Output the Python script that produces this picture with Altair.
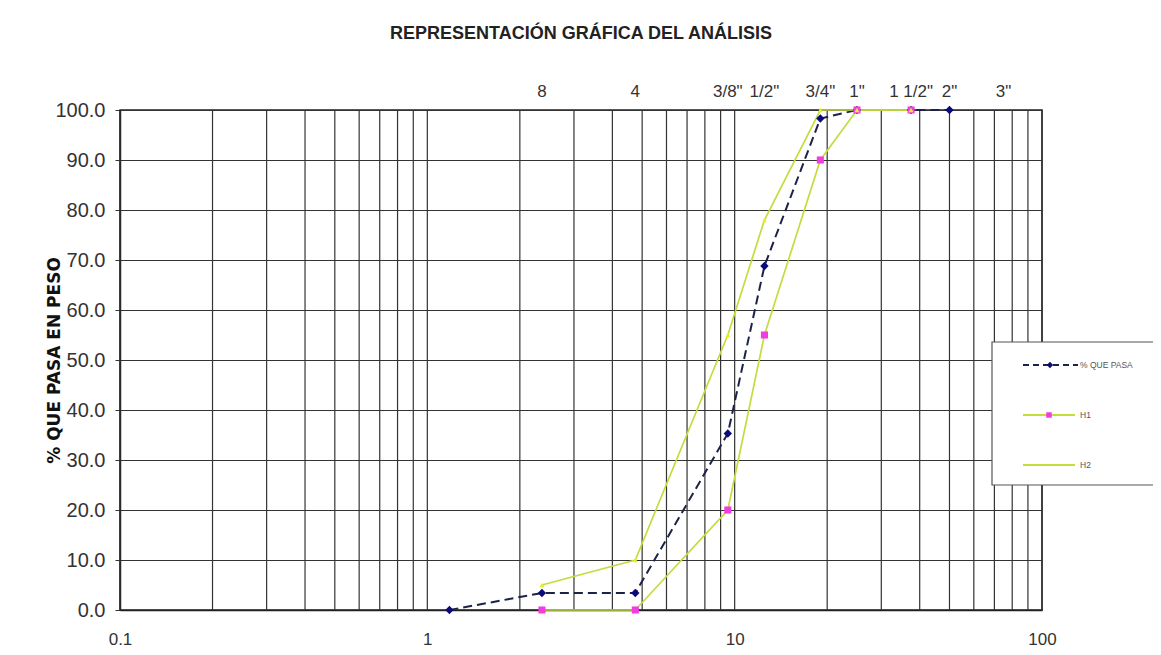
import altair as alt
import pandas as pd

# ---------------- data ----------------
sieve_mm = [1.18, 2.36, 4.75, 9.5, 12.5, 19.0, 25.0, 37.5, 50.0]
pct_pasa = [0.0, 3.4, 3.4, 35.3, 68.8, 98.3, 100.0, 100.0, 100.0]
limit_mm = [2.36, 4.75, 9.5, 12.5, 19.0, 25.0, 37.5]
h1_lower = [0.0, 0.0, 20.0, 55.0, 90.0, 100.0, 100.0]
h2_upper = [5.0, 10.0, 55.0, 78.0, 100.0, 100.0, 100.0]
top_labels = ["8", "4", '3/8"', '1/2"', '3/4"', '1"', '1 1/2"', '2"', '3"']
top_label_mm = [2.36, 4.75, 9.5, 12.5, 19.0, 25.0, 37.5, 50.0, 75.0]
x_tick_values = [0.1, 1, 10, 100]
y_tick_values = [0, 10, 20, 30, 40, 50, 60, 70, 80, 90, 100]
legend_labels = ["% QUE  PASA", "H1", "H2"]
grid_mm = [round(m * 10 ** e, 4) for e in (-1, 0, 1) for m in range(1, 10)] + [100]

# ---------------- tables ----------------
df_pasa = pd.DataFrame({"mm": sieve_mm, "pct": pct_pasa})
df_h1 = pd.DataFrame({"mm": limit_mm, "pct": h1_lower})
df_h2 = pd.DataFrame({"mm": limit_mm, "pct": h2_upper})
df_top = pd.DataFrame({"mm": top_label_mm, "lab": top_labels})
df_grid = pd.DataFrame({"mm": grid_mm})
one = pd.DataFrame({"k": [0]})

W, H = 922, 500
FONT = "Liberation Sans"
xs = alt.Scale(type="log", domain=[0.1, 100], nice=False)
ys = alt.Scale(domain=[0, 100], nice=False)

GREEN = "#c4dc3e"
NAVY_LINE = "#1d2348"
NAVY = "#0a0a78"
MAGENTA = "#f03ce0"

X_AXIS = alt.Axis(values=x_tick_values, format="~g", ticks=False, grid=False,
                  title=None, labelFont=FONT, labelFontSize=17, labelColor="#333",
                  labelPadding=21, labelFlush=False, labelOverlap=False,
                  domainColor="#222", domainWidth=1.5)
Y_AXIS = alt.Axis(values=y_tick_values, format=".1f", grid=True, gridColor="#333333",
                  gridWidth=1.2, tickColor="#333", tickSize=5, domainColor="#222",
                  domainWidth=1.5, labelFont=FONT, labelFontSize=20, labelColor="#333",
                  labelPadding=10, labelFlush=False, title="% QUE PASA EN PESO",
                  titleFont="DejaVu Sans", titleFontSize=17, titleFontWeight="bold",
                  titleColor="#111", titleX=-57, titleY=250, titleAlign="center",
                  titleBaseline="bottom", titleAngle=270)


def X():
    return alt.X("mm:Q", scale=xs, axis=X_AXIS)


def Y():
    return alt.Y("pct:Q", scale=ys, axis=Y_AXIS)


grid_v = alt.Chart(df_grid).mark_rule(color="#333333", strokeWidth=1.2).encode(x=X())

pasa_line = alt.Chart(df_pasa).mark_line(color=NAVY_LINE, strokeWidth=2, strokeDash=[9, 5]).encode(x=X(), y=Y())
pasa_pts = alt.Chart(df_pasa).mark_point(shape="diamond", filled=True, color=NAVY, size=70, opacity=1).encode(x=X(), y=Y())

h1_line = alt.Chart(df_h1).mark_line(color=GREEN, strokeWidth=1.7).encode(x=X(), y=Y())
h1_pts = alt.Chart(df_h1).mark_square(color=MAGENTA, size=50, opacity=1).encode(x=X(), y=Y())
h2_line = alt.Chart(df_h2).mark_line(color=GREEN, strokeWidth=1.7).encode(x=X(), y=Y())
h2_pts = alt.Chart(df_h2).mark_point(shape="triangle-up", filled=True, color="#e6f020", size=25, opacity=1).encode(x=X(), y=Y())

top_text = alt.Chart(df_top).mark_text(font=FONT, fontSize=17, color="#333", baseline="alphabetic",
                                       align="center").encode(
    x=X(), y=alt.value(-13), text="lab:N")

# ---------------- legend box ----------------
leg_box = alt.Chart(one).mark_rect(fill="white", stroke="#555", strokeWidth=1.2).encode(
    x=alt.value(872), x2=alt.value(1045), y=alt.value(232), y2=alt.value(375))
leg_items = []
leg_y = [255, 305, 355]
leg_items.append(alt.Chart(one).mark_rule(color=NAVY_LINE, strokeWidth=2, strokeDash=[6, 4]).encode(
    x=alt.value(903), x2=alt.value(958), y=alt.value(leg_y[0])))
leg_items.append(alt.Chart(one).mark_point(shape="diamond", filled=True, color=NAVY, size=40, opacity=1).encode(
    x=alt.value(930), y=alt.value(leg_y[0])))
leg_items.append(alt.Chart(one).mark_rule(color=GREEN, strokeWidth=1.8).encode(
    x=alt.value(903), x2=alt.value(955), y=alt.value(leg_y[1])))
leg_items.append(alt.Chart(one).mark_square(color=MAGENTA, size=30, opacity=1).encode(
    x=alt.value(929), y=alt.value(leg_y[1])))
leg_items.append(alt.Chart(one).mark_rule(color=GREEN, strokeWidth=1.8).encode(
    x=alt.value(903), x2=alt.value(955), y=alt.value(leg_y[2])))
for lab, yy in zip(legend_labels, leg_y):
    leg_items.append(alt.Chart(pd.DataFrame({"t": [lab]})).mark_text(
        font=FONT, fontSize=8.5, color="#555", align="left", baseline="middle").encode(
        x=alt.value(960), y=alt.value(yy), text="t:N"))

chart = alt.layer(
    grid_v, pasa_line, h1_line, h2_line, pasa_pts, h1_pts, h2_pts, top_text, leg_box, *leg_items
).properties(
    width=W, height=H,
    title=alt.TitleParams("REPRESENTACIÓN GRÁFICA DEL ANÁLISIS", font=FONT, fontSize=18,
                          fontWeight="bold", color="#222", anchor="middle", offset=40),
    autosize=alt.AutoSizeParams(type="none"),
    padding={"left": 112, "top": 102, "right": 111, "bottom": 37},
    background="white",
).configure_view(stroke="#222", strokeWidth=1.5)

chart.save("out.html", embed_options={"renderer": "svg", "actions": False})
